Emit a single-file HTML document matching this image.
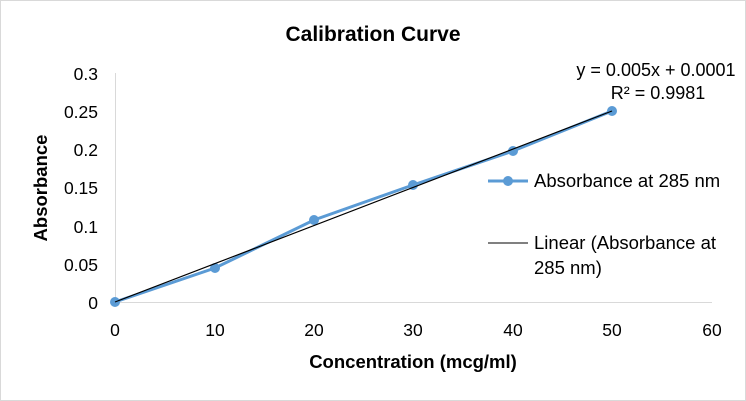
<!DOCTYPE html>
<html><head><style>
body{margin:0;background:#fff;}
svg{display:block;font-family:"Liberation Sans",Calibri,sans-serif;}
</style></head><body>
<svg width="746" height="401" viewBox="0 0 746 401">
<rect x="0.5" y="0.5" width="745" height="400" fill="#fff" stroke="#d9d9d9"/>
<text x="373" y="41" font-size="21" font-weight="bold" text-anchor="middle" fill="#000">Calibration Curve</text>
<line x1="115.5" y1="73" x2="115.5" y2="302" stroke="#d9d9d9"/>
<line x1="115" y1="302.5" x2="712" y2="302.5" stroke="#d9d9d9"/>
<g font-size="17.5" fill="#000" text-anchor="end">
<text x="98" y="309">0</text>
<text x="98" y="271">0.05</text>
<text x="98" y="233">0.1</text>
<text x="98" y="194">0.15</text>
<text x="98" y="156">0.2</text>
<text x="98" y="118">0.25</text>
<text x="98" y="80">0.3</text>
</g>
<g font-size="17.5" fill="#000" text-anchor="middle">
<text x="115" y="336">0</text>
<text x="215" y="336">10</text>
<text x="314" y="336">20</text>
<text x="413" y="336">30</text>
<text x="513" y="336">40</text>
<text x="612" y="336">50</text>
<text x="712" y="336">60</text>
</g>
<text x="413" y="368" font-size="18.5" font-weight="bold" text-anchor="middle">Concentration (mcg/ml)</text>
<text transform="translate(47,188) rotate(-90)" font-size="18.5" font-weight="bold" text-anchor="middle">Absorbance</text>
<polyline points="115,302 215,268 314,220 413,185 513,151 612,111" fill="none" stroke="#5b9bd5" stroke-width="3"/>
<g fill="#5b9bd5">
<circle cx="115" cy="302" r="5"/><circle cx="215" cy="268" r="5"/><circle cx="314" cy="220" r="5"/>
<circle cx="413" cy="185" r="5"/><circle cx="513" cy="151" r="5"/><circle cx="612" cy="111" r="5"/>
</g>
<line x1="115" y1="302" x2="612" y2="111" stroke="#000" stroke-width="1.2"/>
<text x="656" y="76" font-size="18" text-anchor="middle">y = 0.005x + 0.0001</text>
<text x="658" y="99" font-size="18" text-anchor="middle">R² = 0.9981</text>
<line x1="488" y1="181" x2="528" y2="181" stroke="#5b9bd5" stroke-width="3"/>
<circle cx="508" cy="181" r="5" fill="#5b9bd5"/>
<text x="534" y="187" font-size="18.5">Absorbance at 285 nm</text>
<line x1="488" y1="243" x2="528" y2="243" stroke="#000" stroke-width="1"/>
<text x="534" y="249" font-size="18.5">Linear (Absorbance at</text>
<text x="534" y="274" font-size="18.5">285 nm)</text>
</svg>
</body></html>
